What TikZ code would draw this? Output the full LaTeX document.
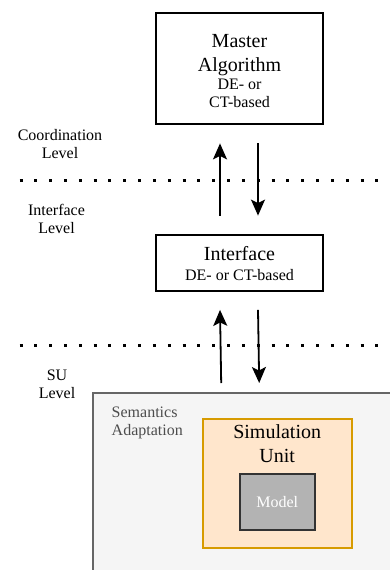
\documentclass[tikz,border=0pt]{standalone}
\usepackage{fontspec}
\setmainfont{Liberation Serif}
\usetikzlibrary{calc}
\usetikzlibrary{positioning}
\usetikzlibrary{arrows.meta}
\definecolor{semfill}{HTML}{F5F5F5}
\definecolor{semline}{HTML}{666666}
\definecolor{semtext}{HTML}{4D4D4D}
\definecolor{sufill}{HTML}{FFE6CC}
\definecolor{suline}{HTML}{D79B00}
\definecolor{modelfill}{HTML}{B3B3B3}
\definecolor{modelline}{HTML}{333333}
\tikzstyle{bigtext} = [font=\fontsize{20}{24}\selectfont, align=center, inner sep=0]
\tikzstyle{smalltext} = [font=\fontsize{16}{18}\selectfont, align=center, inner sep=0]
\tikzstyle{levelbox} = [draw, line width=1.8pt, minimum width=167pt, inner sep=0]
\tikzstyle{flow} = [line width=1.8pt, -{Stealth[length=16pt, width=14pt, inset=3.5pt]}]
\tikzstyle{levelline} = [line width=3pt, dash pattern=on 3pt off 11.83pt]

\begin{document}
\begin{tikzpicture}[x=1pt, y=-1pt]
    \useasboundingbox (0,0) rectangle (390,570);
    \clip (0,0) rectangle (390,570);

    \node[levelbox, minimum height=111pt] (master) at (239.5,68.5) {};
    \node[bigtext] (master_title) at ($(master)+(0,-13.5)$) {Master\\Algorithm};
    \node[smalltext] (master_kind) at ($(master)+(0,25)$) {DE- or\\CT-based};

    \node[levelbox, minimum height=56pt] (iface) at (239.5,263) {};
    \node[bigtext, anchor=base] (iface_title) at ($(iface)+(0,-2.3)$) {Interface};
    \node[smalltext, anchor=base] (iface_kind) at ($(iface)+(0,17)$) {DE- or CT-based};

    \node[draw=semline, fill=semfill, line width=1.8pt, minimum width=310pt, minimum height=190pt, inner sep=0, anchor=north west] (sem) at (92.3,391.7) {};
    \node[smalltext, align=left, text=semtext, anchor=west] (sem_label) at ($(sem.north west)+(19.2,31.4)$) {Semantics\\Adaptation};

    \node[draw=suline, fill=sufill, line width=1.8pt, minimum width=149pt, minimum height=129.3pt, inner sep=0] (su) at (277.2,483.7) {};
    \node[bigtext] (su_title) at ($(su)+(0,-39.6)$) {Simulation\\Unit};
    \node[draw=modelline, fill=modelfill, line width=2.2pt, minimum width=74.7pt, minimum height=55.7pt, inner sep=0, text=white, font=\fontsize{16}{18}\selectfont] (model) at (277.3,502.2) {Model};

    % level names
    \node[smalltext] (coord_label) at (60,143.7) {Coordination\\Level};
    \node[smalltext] (iface_label) at (56.5,218.5) {Interface\\Level};
    \node[smalltext] (su_label) at (57,384) {SU\\Level};

    \draw[levelline] (19.5,180.5) -- (378.5,180.5);
    \draw[levelline] (19.5,345.5) -- (378.5,345.5);

    \coordinate (up_a) at ($(iface.north)+(-19.5,-18.5)$);
    \coordinate (up_b) at ($(master.south)+(-19.5,18.5)$);
    \coordinate (down_a) at ($(master.south)+(18.5,18.5)$);
    \coordinate (down_b) at ($(iface.north)+(18.5,-18.5)$);
    \coordinate (up_c) at ($(sem.north)+(-27,-8.7)$);
    \coordinate (up_d) at ($(iface.south)+(-19.5,18)$);
    \coordinate (down_c) at ($(iface.south)+(18.5,18)$);
    \coordinate (down_d) at ($(sem.north)+(11,-8.7)$);

    \draw[flow] (up_a) -- (up_b);
    \draw[flow] (down_a) -- (down_b);
    \draw[flow] (up_c) -- (up_d);
    \draw[flow] (down_c) -- (down_d);
\end{tikzpicture}
\end{document}
